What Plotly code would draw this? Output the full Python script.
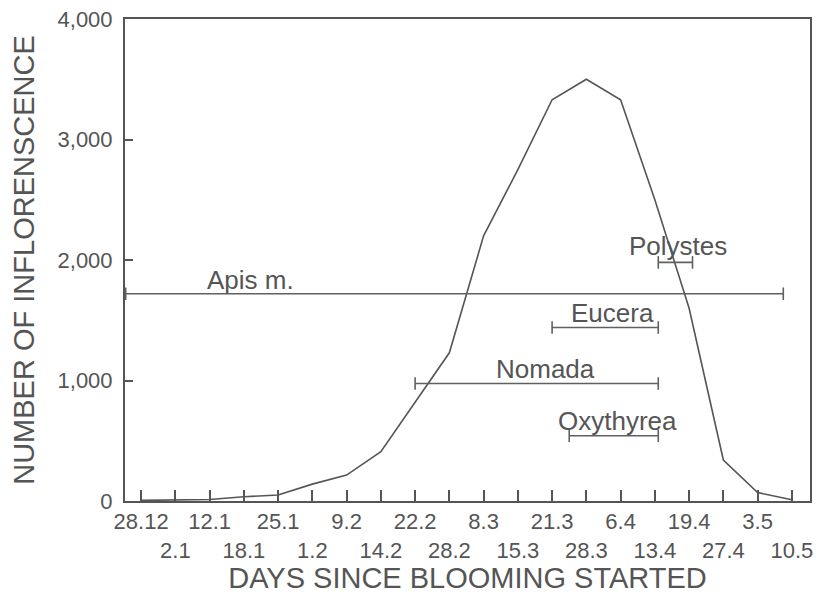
import plotly.graph_objects as go

# ---- data ----
tick_labels = ["28.12", "2.1", "12.1", "18.1", "25.1", "1.2", "9.2", "14.2", "22.2", "28.2",
               "8.3", "15.3", "21.3", "28.3", "6.4", "13.4", "19.4", "27.4", "3.5", "10.5"]
tick_index = list(range(len(tick_labels)))
inflorescence = [5, 8, 12, 35, 50, 140, 215, 410, 820, 1230,
                 2200, 2750, 3330, 3500, 3330, 2500, 1600, 340, 70, 10]

insect_names = ["Apis m.", "Polystes", "Eucera", "Nomada", "Oxythyrea"]
insect_start = [-0.45, 15.1, 12.0, 8.0, 12.5]
insect_end = [18.75, 16.1, 15.1, 15.1, 15.1]
insect_level = [1720, 1980, 1440, 975, 541]
label_x = [3.2, 15.68, 13.75, 11.82, 13.92]
label_y = [1834, 2116, 1560, 1095, 664]

y_ticks = [0, 1000, 2000, 3000, 4000]

FONT = "Liberation Sans, Arial, sans-serif"
TXT = "#555555"
LINE = "#555555"

# two-row tick labels: alternate rows
ticktext = [t if i % 2 == 0 else " <br>" + t for i, t in enumerate(tick_labels)]

fig = go.Figure()
fig.add_trace(go.Scatter(x=tick_index, y=inflorescence, mode="lines",
                         line=dict(color=LINE, width=1.6), showlegend=False,
                         hoverinfo="skip"))

for name, s, e, v in zip(insect_names, insect_start, insect_end, insect_level):
    fig.add_trace(go.Scatter(x=[s, e], y=[v, v], mode="lines+markers",
                             line=dict(color="#606060", width=1.6),
                             marker=dict(symbol="line-ns-open", size=9,
                                         line=dict(color="#606060", width=1.6)),
                             showlegend=False, name=name))

for name, lx, ly in zip(insect_names, label_x, label_y):
    fig.add_annotation(x=lx, y=ly, text=name, showarrow=False,
                       font=dict(family=FONT, size=26, color=TXT),
                       xanchor="center", yanchor="middle")

# the page body adds an 8px offset, so the figure is 8px smaller and shifted
fig.update_layout(
    width=815, height=586,
    margin=dict(l=117, r=13, t=11, b=93, autoexpand=False),
    paper_bgcolor="white", plot_bgcolor="white",
    font=dict(family=FONT, color=TXT),
)
fig.update_xaxes(
    range=[-0.47, 19.53], tickmode="array", tickvals=tick_index, ticktext=ticktext,
    ticks="inside", ticklen=11, tickwidth=1.5, tickcolor=LINE,
    showline=True, linecolor=LINE, linewidth=2, mirror=True,
    showgrid=False, zeroline=False, automargin=False, ticklabeloverflow="allow",
    tickfont=dict(family=FONT, size=22, color=TXT), tickangle=0,
    title=dict(text="DAYS SINCE BLOOMING STARTED",
               font=dict(family=FONT, size=29, color=TXT), standoff=8),
)
fig.update_yaxes(
    range=[0, 4000], tickmode="array", tickvals=y_ticks, tickformat=",d",
    ticks="inside", ticklen=8, tickwidth=1.5, tickcolor=LINE,
    showline=True, linecolor=LINE, linewidth=2, mirror=True,
    showgrid=False, zeroline=False, automargin=False, ticklabeloverflow="allow",
    tickfont=dict(family=FONT, size=22, color=TXT),
    ticklabelstandoff=6,
    title=dict(text="NUMBER OF INFLORENSCENCE",
               font=dict(family=FONT, size=29, color=TXT), standoff=14),
)

fig.write_html("out.html")
